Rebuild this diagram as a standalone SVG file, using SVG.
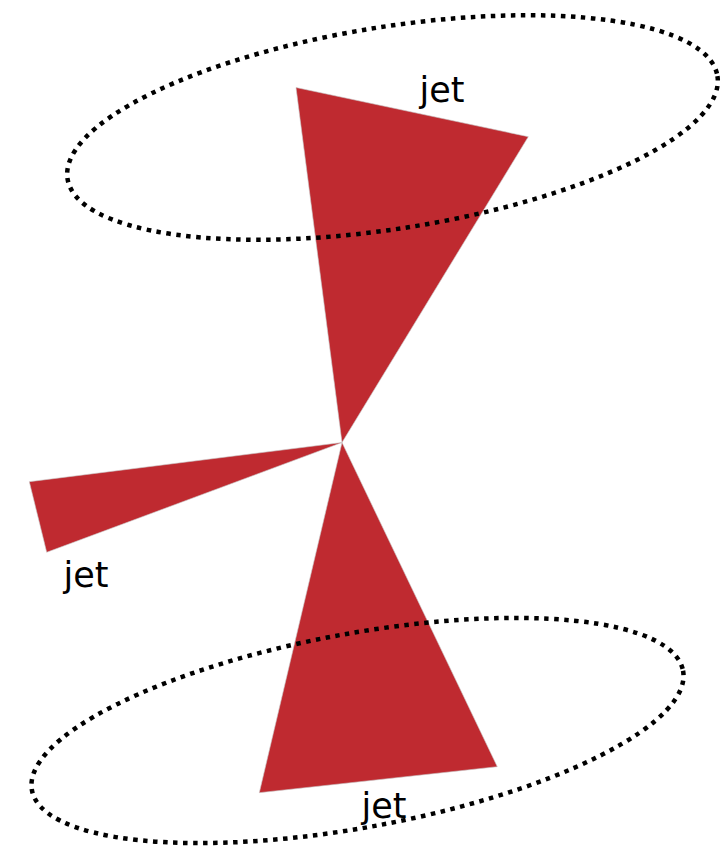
<svg xmlns="http://www.w3.org/2000/svg" width="722" height="854" viewBox="0 0 722 854">
<style>
.jet{fill:#BF2A30;stroke:#c9c9c9;stroke-width:0.6}
.ring{fill:none;stroke:#000;stroke-width:4.5;stroke-dasharray:4.5 5.5}
.lbl{font-family:"DejaVu Sans","Liberation Sans",sans-serif;font-size:35px;fill:#000;text-anchor:middle}
</style>
<rect width="722" height="854" fill="#fff"/>
<g id="jet-top"><polygon class="jet" points="296,87.5 528.3,136.7 342,442.5"/></g>
<g id="jet-left"><polygon class="jet" points="29.3,481.7 46.7,552.3 342,442.5"/></g>
<g id="jet-bottom"><polygon class="jet" points="259.3,792.7 497.3,766.7 342,442.5"/></g>
<g id="rings">
<ellipse id="ring-top" class="ring" cx="392.5" cy="127.5" rx="329" ry="101" transform="rotate(-9 392.5 127.5)"/>
<ellipse id="ring-bottom" class="ring" cx="357.5" cy="730.5" rx="331" ry="97" transform="rotate(-10.4 357.5 730.5)"/>
</g>
<g id="labels">
<text class="lbl" x="442" y="102">jet</text>
<text class="lbl" x="86" y="587">jet</text>
<text class="lbl" x="384" y="818">jet</text>
</g>
</svg>
